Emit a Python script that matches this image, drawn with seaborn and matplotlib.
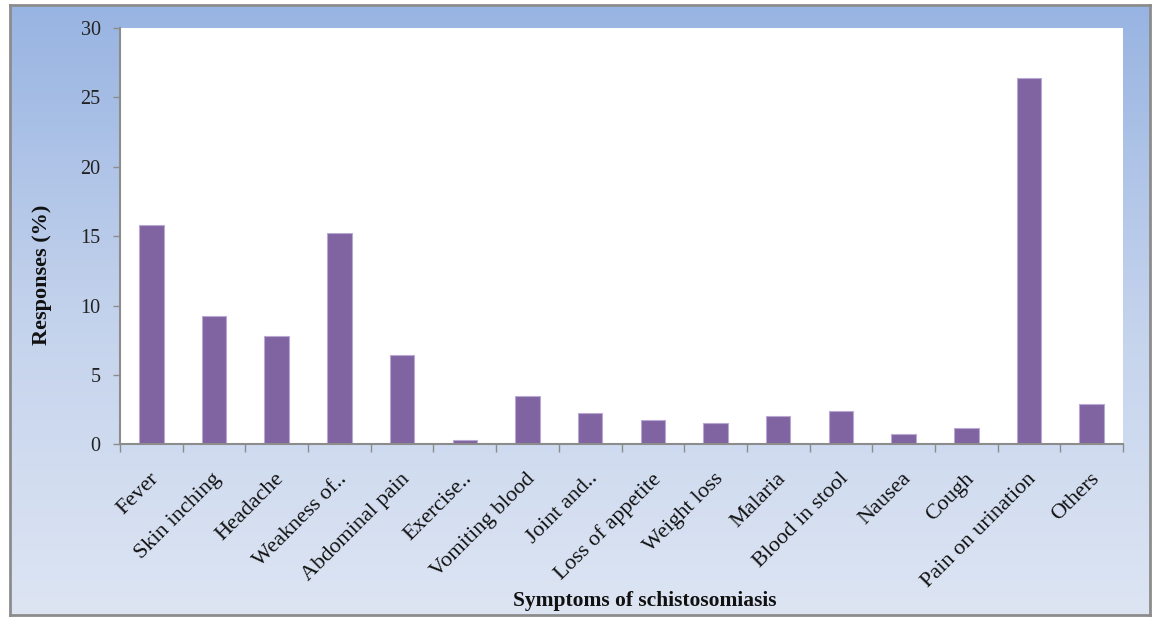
import numpy as np
import pandas as pd
import matplotlib
matplotlib.use("Agg")
import matplotlib.pyplot as plt
import matplotlib.transforms as mtransforms
from matplotlib.colors import LinearSegmentedColormap
import seaborn as sns

# Reported symptoms of schistosomiasis (% of responses)
symptoms = [
    "Fever", "Skin inching", "Headache", "Weakness of..", "Abdominal pain",
    "Exercise..", "Vomiting blood", "Joint and..", "Loss of appetite",
    "Weight loss", "Malaria", "Blood in stool", "Nausea", "Cough",
    "Pain on urination", "Others",
]
responses = [15.8, 9.25, 7.8, 15.25, 6.4, 0.3, 3.45, 2.25, 1.75,
             1.5, 2.05, 2.4, 0.75, 1.2, 26.4, 2.9]
y_ticks = [0, 5, 10, 15, 20, 25, 30]

sns.set_theme(style="white")
plt.rcParams["font.family"] = ["Liberation Serif", "DejaVu Serif"]

W, H = 1156, 617
fig = plt.figure(figsize=(W / 100, H / 100), dpi=100)
fig.patch.set_facecolor("white")

# Gradient chart-area background with grey frame
bg = fig.add_axes([10 / W, 1 - 615 / H, 1140 / W, 610 / H], zorder=0)
cmap = LinearSegmentedColormap.from_list("bg", ["#98B4E2", "#C3D2EC", "#DDE5F3"])
grad = np.linspace(0, 1, 256).reshape(-1, 1)
bg.imshow(grad, aspect="auto", cmap=cmap, extent=[0, 1, 0, 1], origin="upper")
bg.set_xlim(0, 1)
bg.set_ylim(0, 1)
bg.set_xticks([])
bg.set_yticks([])
for s in bg.spines.values():
    s.set_color("#8C8C8C")
    s.set_linewidth(2)

# Plot area
left, right, top, bottom = 120, 1123, 28, 444.3
ax = fig.add_axes([left / W, 1 - bottom / H, (right - left) / W, (bottom - top) / H], zorder=1)
ax.set_facecolor("white")

df = pd.DataFrame({"Symptom": symptoms, "Responses": responses})
sns.barplot(data=df, x="Symptom", y="Responses", color="#8064A2", saturation=1,
            width=0.39, edgecolor="#B9A9D2", linewidth=0.8, ax=ax)

ax.set_xlim(-0.5, len(symptoms) - 0.5)
ax.set_ylim(0, 30)
ax.set_yticks(y_ticks)
ax.set_yticklabels([str(t) for t in y_ticks], fontsize=14.5, color="#222222")
ax.tick_params(axis="y", direction="out", length=5, width=1, color="#8C8C8C", pad=9, left=True)

# Boundary tick marks between categories, labels at category centres
ax.set_xticks(np.arange(-0.5, len(symptoms), 1.0))
ax.set_xticklabels([])
ax.tick_params(axis="x", which="major", direction="out", length=6, width=1,
               color="#8C8C8C", bottom=True)
ax.set_xticks(range(len(symptoms)), minor=True)
ax.set_xticklabels(symptoms, minor=True, rotation=45, ha="right",
                   rotation_mode="anchor", fontsize=16, color="#111111")
ax.tick_params(axis="x", which="minor", length=0, pad=18)
offset = mtransforms.ScaledTranslation(-2 / 100, 0, fig.dpi_scale_trans)
for lbl in ax.get_xticklabels(minor=True):
    lbl.set_transform(lbl.get_transform() + offset)

for side in ["top", "right"]:
    ax.spines[side].set_visible(False)
for side in ["left", "bottom"]:
    ax.spines[side].set_color("#8C8C8C")
    ax.spines[side].set_linewidth(1.5)

ax.set_xlabel("")
ax.set_ylabel("")
fig.text(645 / W, 1 - 601 / H, "Symptoms of schistosomiasis", ha="center", va="center",
         fontsize=15.5, fontweight="bold", color="#111111")
fig.text(42 / W, 1 - 275 / H, "Responses (%)", ha="center", va="center", rotation=90,
         fontsize=16, fontweight="bold", color="#111111")

fig.savefig("out.png", dpi=100)
